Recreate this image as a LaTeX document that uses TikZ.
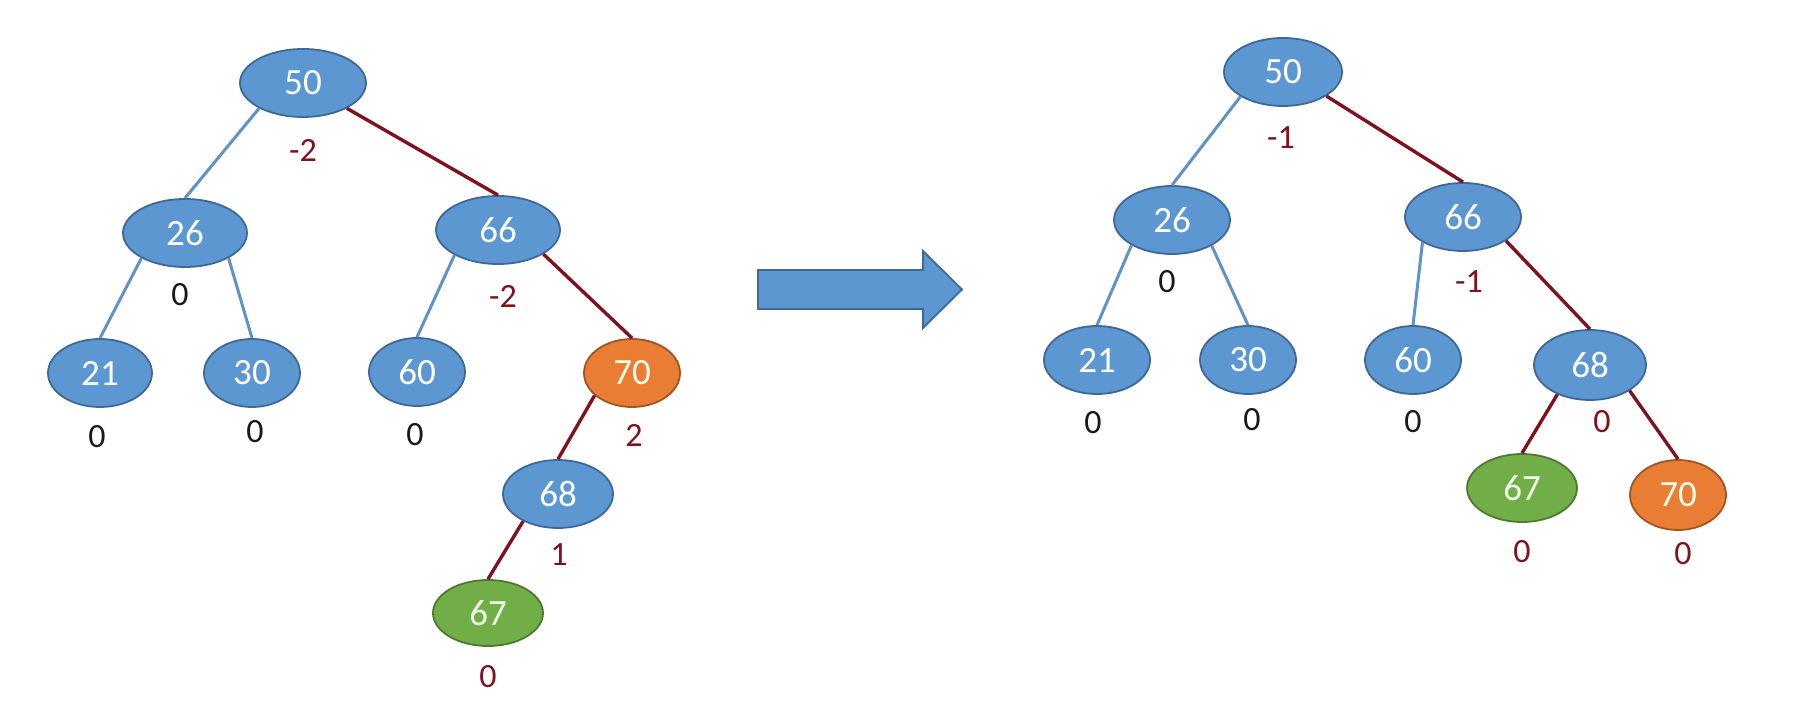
\documentclass[tikz,border=0pt]{standalone}
\usepackage{fontspec}
\setmainfont{Carlito}
\usetikzlibrary{shapes.geometric}
\usetikzlibrary{calc}

\definecolor{nodefill}{RGB}{93,151,210}
\definecolor{nodeline}{RGB}{62,104,150}
\definecolor{fixfill}{RGB}{234,125,52}
\definecolor{fixline}{RGB}{160,86,36}
\definecolor{newfill}{RGB}{114,174,72}
\definecolor{newline}{RGB}{78,122,48}
\definecolor{edgeblue}{RGB}{96,146,196}
\definecolor{edgered}{RGB}{128,18,30}

\begin{document}
\begin{tikzpicture}[x=0.5pt, y=-0.5pt,
		avlnode/.style={ellipse, inner sep=0pt, minimum height=34pt, line width=0.9pt, draw=nodeline, fill=nodefill, text=white, font=\fontsize{18.5}{20}\selectfont},
		fixnode/.style={avlnode, draw=fixline, fill=fixfill, text=yellow!8},
		newnode/.style={avlnode, draw=newline, fill=newfill, text=green!8},
		okedge/.style={edgeblue, line width=1.5pt},
		hotedge/.style={edgered, line width=1.7pt},
		bfok/.style={font=\fontsize{17}{18}\selectfont, text=black!90},
		bfhot/.style={font=\fontsize{17}{18}\selectfont, text=edgered}]
		\useasboundingbox (0,0) rectangle (1794,710);

		% before: 67 inserted below 70
		\node (a50) [avlnode, minimum width=63pt] at (303,83) {50};
		\node (a26) [avlnode, minimum width=62pt] at (185,233) {26};
		\node (a66) [avlnode, minimum width=62pt] at (498,230) {66};
		\node (a21) [avlnode, minimum width=52pt] at (100,373) {21};
		\node (a30) [avlnode, minimum width=48pt] at (252,373) {30};
		\node (a60) [avlnode, minimum width=48pt] at (417,372) {60};
		\node (a70) [fixnode, minimum width=48pt] at (632,373) {70};
		\node (a68) [avlnode, minimum width=55pt] at (558,494) {68};
		\node (a67) [newnode, minimum width=55pt, minimum height=33pt] at (488,613) {67};

		\draw [okedge] (a50.210)--(a26.north);
		\draw [hotedge] (a50.-30)--(a66.north);
		\draw [okedge] (a26.210)--(a21.north);
		\draw [okedge] (a26.-30)--(a30.north);
		\draw [okedge] (a66.210)--(a60.north);
		\draw [hotedge] (a66.-28)--(a70.north);
		\draw [hotedge] (a70.211)--(a68.north);
		\draw [hotedge] (a68.218)--(a67.north);

		\node (ba50) [bfhot] at ($(a50) + (0,67)$) {-2};
		\node (ba26) [bfok] at ($(a26) + (-5,62)$) {0};
		\node (ba66) [bfhot] at ($(a66) + (5,66)$) {-2};
		\node (ba21) [bfok] at ($(a21) + (-3,64)$) {0};
		\node (ba30) [bfok] at ($(a30) + (3,59)$) {0};
		\node (ba60) [bfok] at ($(a60) + (-2,63)$) {0};
		\node (ba70) [bfhot] at ($(a70) + (2,62)$) {2};
		\node (ba68) [bfhot] at ($(a68) + (1,61)$) {1};
		\node (ba67) [bfhot] at ($(a67) + (0,64)$) {0};

		% rotation
		\draw [line width=0.9pt, draw=nodeline, fill=nodefill] (758,270)--(923,270)--(923,251)--(962,289.5)--(923,328)--(923,309)--(758,309)--cycle;

		% after
		\node (b50) [avlnode, minimum width=59pt] at (1283,72) {50};
		\node (b26) [avlnode, minimum width=58pt] at (1172,220) {26};
		\node (b66) [avlnode, minimum width=58pt] at (1463,217) {66};
		\node (b21) [avlnode, minimum width=53pt] at (1097,360) {21};
		\node (b30) [avlnode, minimum width=48pt] at (1248,360) {30};
		\node (b60) [avlnode, minimum width=48pt] at (1413,360) {60};
		\node (b68) [avlnode, minimum width=56pt, minimum height=35pt] at (1590,365) {68};
		\node (b67) [newnode, minimum width=55pt] at (1522,488) {67};
		\node (b70) [fixnode, minimum width=48pt, minimum height=35pt] at (1678,495) {70};

		\draw [okedge] (b50.210)--(b26.north);
		\draw [hotedge] (b50.-29)--(b66.north);
		\draw [okedge] (b26.212)--(b21.north);
		\draw [okedge] (b26.-33)--(b30.north);
		\draw [okedge] (b66.212)--(b60.north);
		\draw [hotedge] (b66.-29)--(b68.north);
		\draw [hotedge] (b68.222)--(b67.north);
		\draw [hotedge] (b68.-33)--(b70.north);

		\node (bb50) [bfhot] at ($(b50) + (-2,66)$) {-1};
		\node (bb26) [bfok] at ($(b26) + (-5,62)$) {0};
		\node (bb66) [bfhot] at ($(b66) + (6,65)$) {-1};
		\node (bb21) [bfok] at ($(b21) + (-4,63)$) {0};
		\node (bb30) [bfok] at ($(b30) + (4,60)$) {0};
		\node (bb60) [bfok] at ($(b60) + (0,62)$) {0};
		\node (bb68) [bfhot] at ($(b68) + (12,57)$) {0};
		\node (bb67) [bfhot] at ($(b67) + (0,64)$) {0};
		\node (bb70) [bfhot] at ($(b70) + (5,59)$) {0};
	\end{tikzpicture}
\end{document}
